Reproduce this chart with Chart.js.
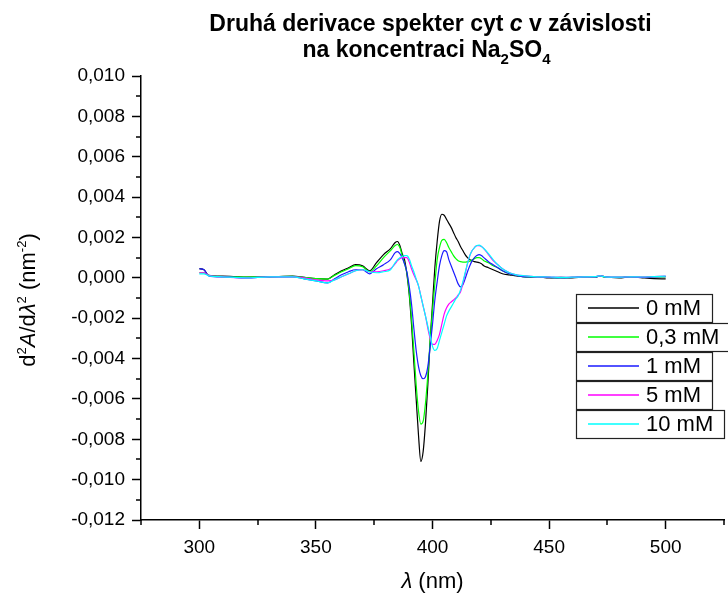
<!DOCTYPE html>
<html>
<head>
<meta charset="utf-8">
<script src="https://cdn.jsdelivr.net/npm/chart.js@4.4.0/dist/chart.umd.min.js"></script>
<style>
    html, body { margin: 0; padding: 0; background: #fff; }
    #chart { display: block; }
</style>
</head>
<body>
<canvas id="chart" width="728" height="594"></canvas>
<script>
// wavelength grid (nm)
const wavelengths = [
    300, 302, 304, 310, 320, 330, 340, 345, 350, 355,
    358, 361, 364, 367, 370, 373, 376, 379, 382, 384,
    385, 386, 387, 388, 389, 390, 391, 392, 393, 394,
    395, 396, 397, 398, 399, 400, 401, 402, 403, 404,
    405, 406, 407, 408, 409, 410, 411, 412, 413, 414,
    415, 416, 417, 418, 419, 420, 421, 422,
    424, 426, 428, 430, 433, 436, 440, 445, 450, 455,
    460, 465, 470, 472, 474, 480, 485, 490, 495, 500
];

// second derivative d2A/dλ2 (nm^-2) for each Na2SO4 concentration
const conc0 = [
    0.00045, 0.00040, 0.00012, 0.00008, 0.00004, 0.00005, 0.00008, 0.00002, -0.00004, -0.00006,
    0.00015, 0.00035, 0.00050, 0.00065, 0.00060, 0.00035, 0.00075, 0.00115, 0.00145, 0.00175,
    0.00180, 0.00160, 0.00120, 0.00090, 0.00020, -0.00080, -0.00230, -0.00420, -0.00600, -0.00780,
    -0.00910, -0.00860, -0.00720, -0.00530, -0.00310, -0.00130, 0.00050, 0.00180, 0.00280, 0.00315,
    0.00310, 0.00290, 0.00270, 0.00250, 0.00225, 0.00200, 0.00180, 0.00155, 0.00135, 0.00115,
    0.00100, 0.00090, 0.00085, 0.00080, 0.00078, 0.00075, 0.00070, 0.00060,
    0.00050, 0.00040, 0.00030, 0.00020, 0.00015, 0.00010, 0.00005, 0.00005, 0.00000, 0.00002,
    0.00000, 0.00004, 0.00005, 0.00010, 0.00004, 0.00000, 0.00005, 0.00000, -0.00004, -0.00005
];
const conc03 = [
    0.00025, 0.00025, 0.00012, 0.00006, 0.00004, 0.00005, 0.00007, 0.00002, -0.00004, -0.00006,
    0.00012, 0.00030, 0.00045, 0.00060, 0.00055, 0.00030, 0.00060, 0.00100, 0.00135, 0.00160,
    0.00165, 0.00150, 0.00110, 0.00070, 0.00025, -0.00070, -0.00200, -0.00360, -0.00530, -0.00660,
    -0.00725, -0.00710, -0.00620, -0.00480, -0.00310, -0.00160, -0.00030, 0.00090, 0.00150, 0.00185,
    0.00190, 0.00175, 0.00150, 0.00130, 0.00110, 0.00095, 0.00085, 0.00080, 0.00078, 0.00078,
    0.00080, 0.00082, 0.00088, 0.00095, 0.00100, 0.00100, 0.00095, 0.00085,
    0.00075, 0.00060, 0.00050, 0.00035, 0.00020, 0.00012, 0.00005, 0.00005, 0.00002, 0.00000,
    0.00002, 0.00004, 0.00005, 0.00008, 0.00003, 0.00002, 0.00004, 0.00002, 0.00004, 0.00005
];
const conc1 = [
    0.00045, 0.00040, 0.00010, 0.00005, 0.00000, 0.00005, 0.00005, -0.00005, -0.00015, -0.00025,
    -0.00005, 0.00015, 0.00030, 0.00040, 0.00040, 0.00020, 0.00045, 0.00065, 0.00090, 0.00125,
    0.00130, 0.00120, 0.00100, 0.00070, 0.00030, -0.00040, -0.00130, -0.00250, -0.00360, -0.00440,
    -0.00485, -0.00500, -0.00490, -0.00440, -0.00340, -0.00230, -0.00110, -0.00020, 0.00060, 0.00110,
    0.00135, 0.00130, 0.00090, 0.00060, 0.00030, 0.00000, -0.00030, -0.00045, -0.00035, -0.00005,
    0.00030, 0.00060, 0.00085, 0.00100, 0.00110, 0.00115, 0.00110, 0.00100,
    0.00080, 0.00065, 0.00050, 0.00035, 0.00020, 0.00012, 0.00005, 0.00005, 0.00002, 0.00000,
    0.00002, 0.00005, 0.00004, 0.00010, 0.00005, 0.00002, 0.00004, 0.00002, 0.00005, 0.00006
];
const conc5 = [
    0.00025, 0.00025, 0.00012, 0.00005, 0.00000, 0.00005, 0.00005, 0.00000, -0.00010, -0.00015,
    -0.00010, 0.00005, 0.00020, 0.00035, 0.00040, 0.00030, 0.00030, 0.00035, 0.00045, 0.00070,
    0.00085, 0.00095, 0.00100, 0.00100, 0.00100, 0.00080, 0.00045, 0.00015, -0.00010, -0.00040,
    -0.00090, -0.00140, -0.00190, -0.00250, -0.00300, -0.00330, -0.00330, -0.00310, -0.00280, -0.00230,
    -0.00180, -0.00150, -0.00130, -0.00120, -0.00110, -0.00100, -0.00085, -0.00070, -0.00030, 0.00020,
    0.00070, 0.00110, 0.00135, 0.00150, 0.00160, 0.00160, 0.00155, 0.00145,
    0.00115, 0.00085, 0.00065, 0.00045, 0.00025, 0.00015, 0.00010, 0.00005, 0.00004, 0.00002,
    0.00003, 0.00005, 0.00006, 0.00010, 0.00005, 0.00003, 0.00005, 0.00004, 0.00006, 0.00008
];
const conc10 = [
    0.00020, 0.00020, 0.00010, 0.00005, 0.00000, 0.00005, 0.00005, -0.00005, -0.00015, -0.00025,
    -0.00010, 0.00005, 0.00020, 0.00035, 0.00040, 0.00030, 0.00025, 0.00030, 0.00040, 0.00075,
    0.00090, 0.00100, 0.00105, 0.00110, 0.00110, 0.00095, 0.00060, 0.00030, -0.00005, -0.00040,
    -0.00090, -0.00140, -0.00190, -0.00240, -0.00290, -0.00340, -0.00360, -0.00350, -0.00310, -0.00270,
    -0.00230, -0.00190, -0.00165, -0.00145, -0.00125, -0.00105, -0.00090, -0.00060, -0.00020, 0.00025,
    0.00070, 0.00110, 0.00135, 0.00150, 0.00160, 0.00162, 0.00155, 0.00145,
    0.00120, 0.00090, 0.00065, 0.00045, 0.00025, 0.00015, 0.00010, 0.00005, 0.00004, 0.00002,
    0.00003, 0.00005, 0.00006, 0.00010, 0.00005, 0.00003, 0.00005, 0.00004, 0.00006, 0.00008
];

const seriesLabels = ['0 mM', '0,3 mM', '1 mM', '5 mM', '10 mM'];
const seriesValues = [conc0, conc03, conc1, conc5, conc10];
const seriesColors = ['#000000', '#00ff00', '#1a1aff', '#ff00ff', '#00ffff'];

const xMajorTicks = [300, 350, 400, 450, 500];
const xMinorTicks = [275, 325, 375, 425, 475, 525];
const yMinorTicks = [-0.011, -0.009, -0.007, -0.005, -0.003, -0.001, 0.001, 0.003, 0.005, 0.007, 0.009];

const FONT = '"Liberation Sans", Arial, Helvetica, sans-serif';

function fontOf(part) {
    return (part.style || '') + ' ' + part.size + 'px ' + FONT;
}

// draws a line of mixed text (italics, sub/superscripts) centered on cx
function drawParts(ctx, parts, cx, baseline) {
    let total = 0;
    for (const p of parts) {
        ctx.font = fontOf(p);
        total += ctx.measureText(p.text).width;
    }
    let x = cx - total / 2;
    ctx.textAlign = 'left';
    ctx.textBaseline = 'alphabetic';
    for (const p of parts) {
        ctx.font = fontOf(p);
        ctx.fillText(p.text, x, baseline + (p.dy || 0));
        x += ctx.measureText(p.text).width;
    }
}

const textPlugin = {
    id: 'textPlugin',
    afterDraw(chart) {
        const ctx = chart.ctx;
        const area = chart.chartArea;
        const xs = chart.scales.x;
        const ys = chart.scales.y;
        const cx = (area.left + area.right) / 2;
        ctx.save();
        ctx.fillStyle = '#000';

        // minor ticks
        ctx.strokeStyle = '#000';
        ctx.lineWidth = 1.5;
        ctx.beginPath();
        for (const v of xMinorTicks) {
            const px = Math.round(xs.getPixelForValue(v));
            ctx.moveTo(px, area.bottom);
            ctx.lineTo(px, area.bottom + 5);
        }
        for (const v of yMinorTicks) {
            const py = Math.round(ys.getPixelForValue(v));
            ctx.moveTo(area.left - 5, py);
            ctx.lineTo(area.left, py);
        }
        ctx.stroke();

        // title
        drawParts(ctx, [
            { text: 'Druhá derivace spekter cyt ', style: 'bold', size: 23 },
            { text: 'c', style: 'italic bold', size: 23 },
            { text: ' v závislosti', style: 'bold', size: 23 }
        ], cx - 2, 31);
        drawParts(ctx, [
            { text: 'na koncentraci Na', style: 'bold', size: 23 },
            { text: '2', style: 'bold', size: 15, dy: 7 },
            { text: 'SO', style: 'bold', size: 23 },
            { text: '4', style: 'bold', size: 15, dy: 7 }
        ], cx - 6, 57);

        // x axis title
        drawParts(ctx, [
            { text: 'λ', style: 'italic', size: 22 },
            { text: ' (nm)', size: 22 }
        ], cx, 588);

        // y axis title, rotated
        ctx.save();
        ctx.translate(35, (area.top + area.bottom) / 2 + 2);
        ctx.rotate(-Math.PI / 2);
        drawParts(ctx, [
            { text: 'd', size: 22 },
            { text: '2', size: 13, dy: -9 },
            { text: 'A', style: 'italic', size: 22 },
            { text: '/d', size: 22 },
            { text: 'λ', style: 'italic', size: 22 },
            { text: '2', size: 13, dy: -9 },
            { text: ' (nm', size: 22 },
            { text: '-2', size: 13, dy: -9 },
            { text: ')', size: 22 }
        ], 0, 0);
        ctx.restore();

        // legend: one framed box per series
        ctx.font = '22px ' + FONT;
        ctx.textBaseline = 'middle';
        for (let i = 0; i < seriesLabels.length; i++) {
            const left = 576;
            const top = 294 + i * 29;
            const h = 28;
            const w = 70 + ctx.measureText(seriesLabels[i]).width + 11;
            ctx.strokeStyle = '#222';
            ctx.lineWidth = 1.2;
            ctx.strokeRect(left + 0.5, top + 0.5, Math.round(w), h);
            ctx.strokeStyle = seriesColors[i];
            ctx.lineWidth = 1.6;
            ctx.beginPath();
            ctx.moveTo(left + 12, top + h / 2);
            ctx.lineTo(left + 63, top + h / 2);
            ctx.stroke();
            ctx.fillText(seriesLabels[i], left + 70, top + h / 2 + 1);
        }
        ctx.restore();
    }
};

function makeDatasets() {
    return seriesValues.map((values, i) => ({
        label: seriesLabels[i],
        data: wavelengths.map((x, j) => ({ x: x, y: values[j] })),
        borderColor: seriesColors[i],
        borderWidth: 1.2,
        pointRadius: 0,
        cubicInterpolationMode: 'monotone',
        order: seriesValues.length - i
    }));
}

function tickFont() {
    return { family: FONT, size: 19 };
}

new Chart(document.getElementById('chart'), {
    type: 'line',
    data: { datasets: makeDatasets() },
    options: {
        responsive: false,
        animation: false,
        devicePixelRatio: 1,
        layout: { padding: { top: 76, right: 4, left: 0, bottom: 0 } },
        plugins: {
            legend: { display: false },
            tooltip: { enabled: false },
            title: { display: false }
        },
        scales: {
            x: {
                type: 'linear',
                min: 275,
                max: 525,
                afterBuildTicks: (scale) => {
                    scale.ticks = xMajorTicks.map((v) => ({ value: v }));
                },
                ticks: {
                    maxRotation: 0,
                    color: '#000',
                    padding: 7,
                    font: tickFont()
                },
                grid: { drawOnChartArea: false, color: '#000', tickLength: 9, tickWidth: 1.5 },
                border: { color: '#000', width: 1.5 },
                afterFit: (scale) => { scale.height = 74; }
            },
            y: {
                min: -0.012,
                max: 0.010,
                ticks: {
                    stepSize: 0.002,
                    color: '#000',
                    padding: 7,
                    font: tickFont(),
                    callback: (v) => (Math.abs(v) < 1e-9 ? 0 : v).toFixed(3).replace('.', ',')
                },
                grid: { drawOnChartArea: false, color: '#000', tickLength: 9, tickWidth: 1.5 },
                border: { color: '#000', width: 1.5 },
                afterFit: (scale) => { scale.width = 141; }
            }
        }
    },
    plugins: [textPlugin]
});
</script>
</body>
</html>
